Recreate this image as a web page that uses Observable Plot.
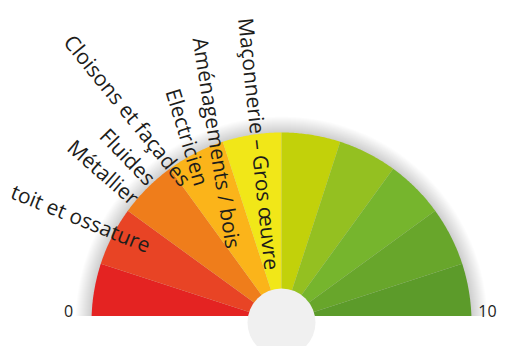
<!DOCTYPE html>
<html><head><meta charset="utf-8">
<script src="https://cdn.jsdelivr.net/npm/d3@7"></script>
<script src="https://cdn.jsdelivr.net/npm/@observablehq/plot@0.6"></script>
<style>
html,body{margin:0;padding:0;background:#fff}
#chart{width:506px;height:346px;overflow:hidden}
#chart svg{display:block}
</style>
</head><body><div id="chart"></div>
<script>
// Gauge: 10 equal segments from 0 to 10
const segments = [0, 1, 2, 3, 4, 5, 6, 7, 8, 9];
const segmentColors = ["#e42322", "#e84425", "#ef7d1b", "#fbb41a", "#f1e718",
                       "#c2d10a", "#94c021", "#76b52d", "#68a62b", "#5c9b2a"];
const gaugeTicks = [0, 10];
const gaugeTickLabels = ["0", "10"];

// Trade labels (radial text), direction in degrees and anchor in polar form
const trades = ["toit et ossature", "Métallier", "Fluides", "Cloisons et façades",
                "Electricien", "Aménagements / bois", "Maçonnerie – Gros œuvre"];
const tradeRotate = [22, 41, 46, 51, 73, 81, 84];
const tradePolarAngle = [27.2, 39.9, 46.9, 53.8, 62.8, 69.9, 82.5];
const tradeRadius = [226, 233, 226, 262, 208, 191, 180];

const R = 190;
const toRad = Math.PI / 180;
const angleOf = v => v / 10 * 180; // gauge value -> degrees from the left
const px = (deg, r) => -r * Math.cos(deg * toRad);
const py = (deg, r) => r * Math.sin(deg * toRad);

// wedge outlines built from the segment values
const wedgeRows = [];
for (const s of segments) {
  const a0 = angleOf(s), a1 = angleOf(s + 1);
  wedgeRows.push({seg: s, x: 0, y: 0});
  for (let k = 0; k <= 36; k++) {
    const a = a0 + (a1 - a0) * k / 36;
    wedgeRows.push({seg: s, x: px(a, R), y: py(a, R)});
  }
}
// soft halo: stacked translucent half-discs slightly larger than the gauge
const haloRows = [];
for (let k = 1; k <= 16; k++) {
  for (let a = -6; a <= 186; a += 1) haloRows.push({ring: k, x: px(a, R + k), y: py(a, R + k)});
}

const plot = Plot.plot({
  width: 506, height: 346,
  marginTop: 0, marginRight: 0, marginBottom: 30, marginLeft: 0,
  x: {domain: [-281, 225], axis: null},
  y: {domain: [6, 322], axis: null},
  color: {domain: segments, range: segmentColors},
  style: {background: "white", fontFamily: "'Open Sans', sans-serif", overflow: "hidden"},
  marks: [
    Plot.line(haloRows, {x: "x", y: "y", z: "ring", fill: "#000", fillOpacity: 0.011, stroke: "none",
      curve: "linear-closed", clip: true}),
    Plot.line(wedgeRows, {x: "x", y: "y", z: "seg", fill: "seg", stroke: "none",
      curve: "linear-closed", clip: true}),
    Plot.dot([{x: 0, y: 0}], {x: "x", y: "y", r: 34, fill: "#f0f0f0", stroke: "none"}),
    Plot.text(gaugeTicks, {
      x: v => px(angleOf(v), R), y: v => py(angleOf(v), R),
      text: (v, i) => gaugeTickLabels[i],
      textAnchor: v => v === 0 ? "end" : "start",
      dy: -6, lineAnchor: "bottom", fontSize: 16, fill: "#1d1d1b"
    }),
    Plot.text(trades, {
      x: (d, i) => px(tradePolarAngle[i], tradeRadius[i]),
      y: (d, i) => py(tradePolarAngle[i], tradeRadius[i]),
      text: d => d,
      rotate: (d, i) => tradeRotate[i],
      textAnchor: "middle", lineAnchor: "middle",
      fontSize: 21, fill: "#1d1d1b"
    })
  ]
});

// tick label offsets from the arc ends
d3.select(plot).selectAll('g[aria-label="text"]').filter((d, i) => i === 0)
  .selectAll("text").attr("dx", (d, i) => i === 0 ? -23 : 16);

document.getElementById("chart").appendChild(plot);
</script>
</body></html>
